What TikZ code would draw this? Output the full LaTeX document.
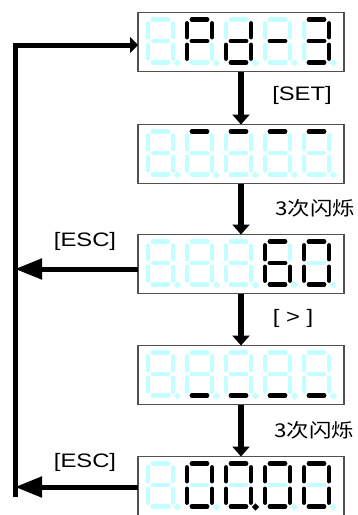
\documentclass[tikz,border=0pt]{standalone}
\usepackage{fontspec}
\setmainfont{Liberation Sans}[FakeStretch=1.22]
\newfontfamily\cjk{Noto Sans CJK SC}[FakeStretch=1.18]
\usetikzlibrary{arrows.meta, calc}
\definecolor{SegOff}{RGB}{195,255,255}
\definecolor{BoxGray}{RGB}{80,80,80}

% segments of one digit, origin at the top left corner
\def\sga{(5,0) -- (20,0)}
\def\sgb{(25,4) -- (25,17.5)}
\def\sgc{(25,25.5) -- (25,39)}
\def\sgd{(5,43) -- (20,43)}
\def\sge{(0,25.5) -- (0,39)}
\def\sgf{(0,4) -- (0,17.5)}
\def\sgg{(5,21.5) -- (20,21.5)}
\def\sgp{(29.5,43.5) circle (0.2)}
\def\sgnone{(0,0)}

\newcommand{\digit}[3]{%
  \begin{scope}[shift={($(#1.north west)+(10+39*#2,7)$)}]
    \foreach \s in {a,b,c,d,e,f,g,p} {\draw[segoff] \csname sg\s\endcsname;}
    \foreach \s in {#3} {\draw[segon] \csname sg\s\endcsname;}
  \end{scope}}
\newcommand{\panel}[6]{%
  \digit{#1}{0}{#2}\digit{#1}{1}{#3}\digit{#1}{2}{#4}%
  \digit{#1}{3}{#5}\digit{#1}{4}{#6}}

\begin{document}
\begin{tikzpicture}[x=1pt, y=-1pt,
    panelbox/.style={rectangle, draw=BoxGray, line width=1.2pt, fill=white,
                     minimum width=206pt, minimum height=59pt,
                     inner sep=0pt, outer sep=0pt},
    segoff/.style={draw=SegOff, line width=4.8pt, line cap=round},
    segon/.style={draw=black, line width=4.8pt, line cap=round},
    down/.style={line width=6pt, -{Triangle[length=10pt,width=17pt]}},
    esc/.style={line width=5pt, -{Triangle[length=27pt,width=20pt]}},
    back/.style={line width=5pt, -{Triangle[length=8pt,width=16pt]}},
    lbl/.style={font=\fontsize{19.5}{22}\selectfont, inner sep=0pt},
    cjklbl/.style={font=\cjk\fontsize{19}{22}\selectfont, inner sep=0pt}
  ]
  \useasboundingbox (0,0) rectangle (358,515);

  % display panels
  \node[panelbox] (b1) at (241,42)  {};
  \node[panelbox] (b2) at (241,154) {};
  \node[panelbox] (b3) at (241,264) {};
  \node[panelbox] (b4) at (241,375) {};
  \node[panelbox] (b5) at (241,486) {};

  \panel{b1}{none}{a,b,e,f,g}{b,c,d,e,g}{g}{a,b,c,d,g}
  \panel{b2}{none}{a}{a}{a}{a}
  \panel{b3}{none}{none}{none}{a,c,d,e,f,g}{a,b,c,d,e,f}
  \panel{b4}{none}{d}{d}{d}{d}
  \panel{b5}{none}{a,b,c,d,e,f}{a,b,c,d,e,f,p}{a,b,c,d,e,f}{a,b,c,d,e,f}

  % main flow
  \draw[down] (b1) -- (b2);
  \draw[down] (b2) -- (b3);
  \draw[down] (b3) -- (b4);
  \draw[down] (b4) -- (b5);
  \node[lbl]    (kset)  at (302,95)  {[SET]};
  \node[cjklbl] (blk1)  at (315,208) {3次闪烁};
  \node[lbl]    (kright) at (293,318) {[ > ]};
  \node[cjklbl] (blk2)  at (314,430) {3次闪烁};

  % escape loop on the left
  \coordinate (lt) at (15,45);
  \coordinate (lb) at (15,497);
  \coordinate (e1) at (15,269);
  \coordinate (e2) at (15,487);
  \draw[back] (lb) -- (lt) -- (lt -| b1.west);
  \draw[esc] (b3.west |- e1) -- (e1);
  \draw[esc] (b5.west |- e2) -- (e2);
  \node[lbl] (kesc1) at (85,241) {[ESC]};
  \node[lbl] (kesc2) at (85,462) {[ESC]};
\end{tikzpicture}
\end{document}
